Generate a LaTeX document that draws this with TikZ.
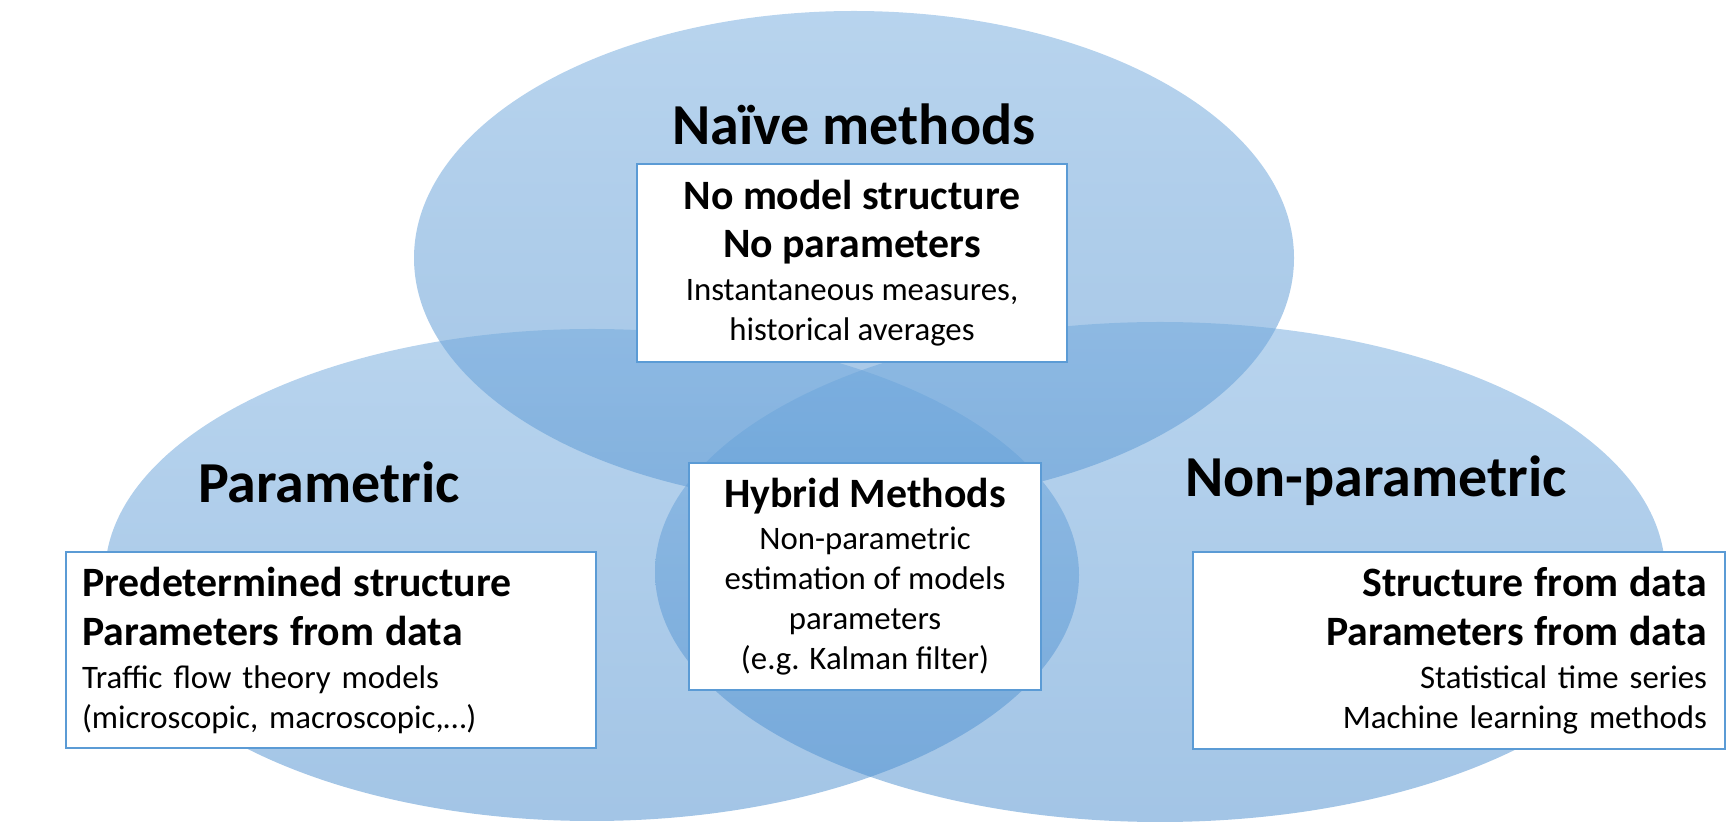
\documentclass[tikz,border=0pt]{standalone}
\usepackage{fontspec}
\setmainfont{Carlito}

\definecolor{accent}{HTML}{5B9BD5}
\definecolor{accentTop}{HTML}{71A9DD}
\definecolor{accentBot}{HTML}{478BCD}

\begin{document}
\begin{tikzpicture}[x=0.5pt, y=-0.5pt]
	
	\tikzset{
		blob/.style={top color=accentTop, bottom color=accentBot, fill opacity=0.5, draw=none},
		title/.style={anchor=base, font=\fontsize{29}{34}\selectfont\bfseries},
		box/.style={draw=accent, line width=1pt, fill=white, inner sep=0pt, font=\fontsize{16.4}{20}\selectfont}
	}
	
	\newcommand{\hd}[1]{{\fontsize{20.9}{24}\selectfont\bfseries #1}}
	
	\useasboundingbox (0,0) rectangle (1735,822);
	
	% the three sets
	\shade[blob] (854,258) ellipse [x radius=220pt, y radius=123.5pt];
	\shade[blob] (592,575) ellipse [x radius=243.5pt, y radius=123pt];
	\shade[blob] (1160,572) ellipse [x radius=252.5pt, y radius=125pt];
	
	\node[title] (naive)    at (854,145) {Naïve methods};
	\node[title] (param)    at (329,503) {Parametric};
	\node[title] (nonparam) at (1376,497) {Non-parametric};
	
	\node[box, minimum width=215pt, minimum height=99pt, align=center] (naiveText) at (852,263)
		{\hd{No model structure}\\[4pt]\hd{No parameters}\\[1.5pt]Instantaneous measures,\\historical averages};
	
	\node[box, minimum width=176pt, minimum height=113.5pt, align=center] (hybridText) at (865,576.5)
		{\hd{Hybrid Methods}\\[1pt]Non-parametric\\estimation of models\\parameters\\(e.g. Kalman filter)};
	
	\node[box, minimum width=265pt, minimum height=98pt, text width=249pt, align=left] (paramText) at (331,650)
		{\hd{Predetermined structure}\\[4.5pt]\hd{Parameters from data}\\[1.5pt]Traffic flow theory models\\(microscopic, macroscopic,…)};
	
	\node[box, minimum width=266pt, minimum height=98.5pt, text width=248pt, align=right] (nonparamText) at (1459,650.5)
		{\hd{Structure from data}\\[4.5pt]\hd{Parameters from data}\\[1.5pt]Statistical time series\\Machine learning methods};
	
\end{tikzpicture}
\end{document}
